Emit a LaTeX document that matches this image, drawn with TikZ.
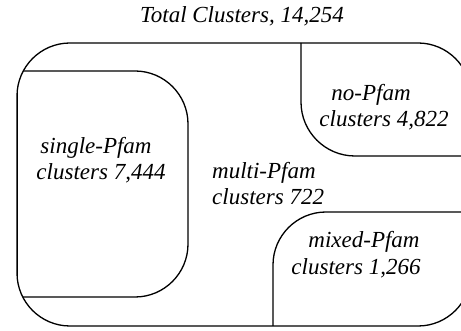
\documentclass[tikz,border=0pt]{standalone}
\usepackage{fontspec}
\setmainfont{Liberation Serif}
\begin{document}
\begin{tikzpicture}[x=1pt,y=-1pt,
  edge/.style={line width=1.3pt},
  lbl/.style={font=\fontsize{23}{28}\selectfont\itshape, inner sep=0pt, anchor=center}]
\useasboundingbox (0,0) rectangle (461,331);
\begin{scope}
  \clip[rounded corners=53] (17,43) rectangle (471,326);
  \draw[edge, rounded corners=53] (0,71) -- (188,71) -- (188,297) -- (0,297);
  \draw[edge] (17,0) -- (17,340);
  \draw[edge, rounded corners=54] (301,0) -- (301,156) -- (500,156);
  \draw[edge, rounded corners=53] (273,340) -- (273,212) -- (500,212);
\end{scope}
\draw[edge, rounded corners=53] (17,43) rectangle (471,326);
\node[lbl] (total) at (242,16) {Total Clusters, 14,254};
\node[lbl] (single1) at (96,148) {single-Pfam};
\node[lbl] (single2) at (101,173) {clusters 7,444};
\node[lbl, anchor=west] (multi1) at (212,173) {multi-Pfam};
\node[lbl, anchor=west] (multi2) at (212,197) {clusters 722};
\node[lbl] (no1) at (371,95) {no-Pfam};
\node[lbl] (no2) at (384,120) {clusters 4,822};
\node[lbl] (mixed1) at (364,242) {mixed-Pfam};
\node[lbl] (mixed2) at (356,268) {clusters 1,266};
\end{tikzpicture}
\end{document}
